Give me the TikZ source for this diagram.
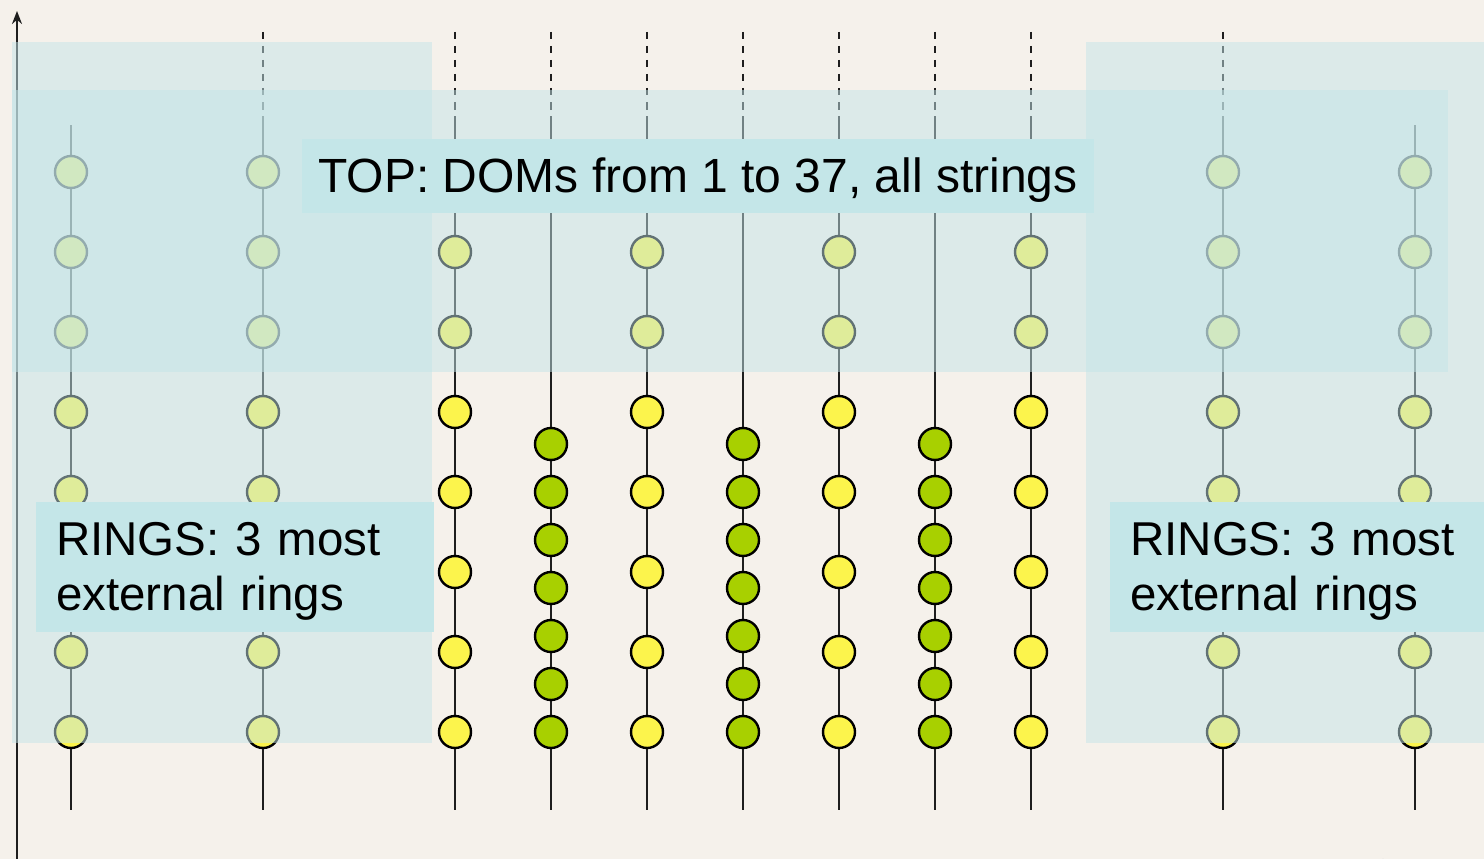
\documentclass[tikz,border=0pt]{standalone}
\usepackage{fontspec}
\setmainfont{Liberation Sans}
\usetikzlibrary{arrows.meta}
\definecolor{bgcol}{HTML}{F5F1EB}
\definecolor{domyellow}{HTML}{FCF44C}
\definecolor{domgreen}{HTML}{A8D000}
\definecolor{bandblue}{HTML}{C4E5E8}
\definecolor{labelblue}{HTML}{C4E6E8}
\definecolor{cablecol}{HTML}{1E1E1E}
\tikzset{
  dom/.style={circle, draw=black, line width=2.4pt, minimum size=32pt, inner sep=0pt},
  ydom/.style={dom, fill=domyellow},
  gdom/.style={dom, fill=domgreen},
  cable/.style={draw=cablecol, line width=2.4pt},
  dashcable/.style={cable, dash pattern=on 7.5pt off 6.5pt},
  band/.style={fill=bandblue, fill opacity=0.5, draw=none},
  lbl/.style={fill=labelblue, text=black, font=\fontsize{47.5pt}{55pt}\selectfont, inner ysep=0pt},
  axis/.style={draw=cablecol, line width=2.4pt, -{Stealth[length=13pt,width=10pt]}}
}
\begin{document}
\begin{tikzpicture}[x=1pt,y=-1pt]
\useasboundingbox (0,0) rectangle (1484,859);
\fill[bgcol] (0,0) rectangle (1484,859);

% axes
\coordinate (ax0) at (17,859);
\coordinate (axtop) at (17,11);
\draw[axis] (ax0) -- (axtop);
\coordinate (hx0) at (17,864);
\coordinate (hx1) at (1396,864);
\draw[axis] (hx0) -- (hx1);

% outer strings (8 DOMs, spacing 80)
\foreach \n/\x/\dash in {o1/71/0, o2/263/1, o3/1223/1, o4/1415/0}{
  \coordinate (\n top) at (\x,125);
  \coordinate (\n bot) at (\x,810);
  \ifnum\dash=1
    \coordinate (\n dtop) at (\x,32);
    \coordinate (\n dend) at (\x,116);
    \draw[dashcable] (\n dtop) -- (\n dend);
    \draw[cable] (\n dend) -- (\n bot);
  \else
    \draw[cable] (\n top) -- (\n bot);
  \fi
  \foreach \k in {0,...,7}{
    \node[ydom] (\n d\k) at (\x,172+80*\k) {};
  }
}

% yellow central strings (7 DOMs, spacing 80)
\foreach \n/\x in {y1/455, y2/647, y3/839, y4/1031}{
  \coordinate (\n dtop) at (\x,32);
  \coordinate (\n dend) at (\x,116);
  \coordinate (\n bot) at (\x,810);
  \draw[dashcable] (\n dtop) -- (\n dend);
  \draw[cable] (\n dend) -- (\n bot);
  \foreach \k in {0,...,6}{
    \node[ydom] (\n d\k) at (\x,252+80*\k) {};
  }
}

% green central strings (7 DOMs, spacing 48)
\foreach \n/\x in {g1/551, g2/743, g3/935}{
  \coordinate (\n dtop) at (\x,32);
  \coordinate (\n dend) at (\x,116);
  \coordinate (\n bot) at (\x,810);
  \draw[dashcable] (\n dtop) -- (\n dend);
  \draw[cable] (\n dend) -- (\n bot);
  \foreach \k in {0,...,6}{
    \node[gdom] (\n d\k) at (\x,444+48*\k) {};
  }
}

% translucent bands
\fill[band] (12,90) rectangle (1448,372);
\fill[band] (12,42) rectangle (432,743);
\fill[band] (1086,42) rectangle (1500,743);

% labels
\node[lbl, font=\fontsize{48pt}{55pt}\selectfont, minimum width=792pt, minimum height=74pt, text height=42pt, text depth=10pt] (toplbl) at (698,176)
  {TOP: DOMs from 1 to 37, all strings};
\node[lbl, anchor=west, text width=358pt, inner xsep=20pt, minimum height=130pt, align=left] (leftlbl) at (36,567)
  {\rule{0pt}{41pt}RINGS: 3 most\\external rings};
\node[lbl, anchor=west, text width=358pt, inner xsep=20pt, minimum height=130pt, align=left] (rightlbl) at (1110,567)
  {\rule{0pt}{41pt}RINGS: 3 most\\external rings};
\end{tikzpicture}
\end{document}
